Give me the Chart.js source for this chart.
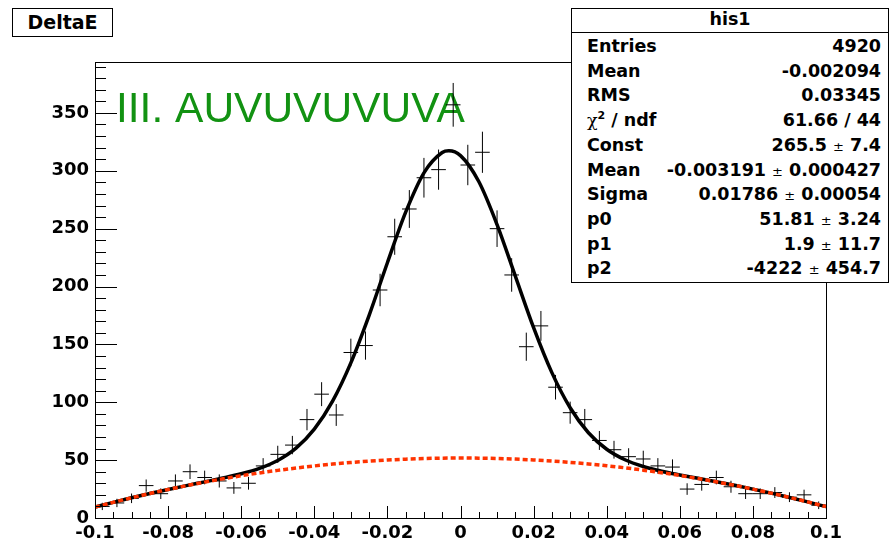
<!DOCTYPE html>
<html>
<head>
<meta charset="utf-8">
<script src="https://cdn.jsdelivr.net/npm/chart.js@4.4.1/dist/chart.umd.min.js"></script>
<style>
  body { margin: 0; background: #fff; }
  #wrap { position: relative; width: 890px; height: 542px; }
  .box { position: absolute; background: #fff; border: 1px solid #000; box-sizing: border-box;
         font: bold 17.5px "DejaVu Sans", sans-serif; color: #000; }
  #title { left: 12px; top: 8px; width: 101px; height: 29px; text-align: center; line-height: 27px; font-size: 19px; }
  #stats { left: 571px; top: 8px; width: 318px; height: 275px; }
  #stats .head { position: absolute; left: 0; right: 0; top: 0; height: 23px; line-height: 21px;
                 text-align: center; border-bottom: 1px solid #000; }
  #stats .row { position: absolute; left: 15px; right: 7px; height: 24px; line-height: 24px; }
  #stats .row .v { position: absolute; right: 0; top: 0; }
  .pm { font-weight: normal; font-size: 13px; }
  .chi { font-weight: normal; font-family: "DejaVu Serif", serif; }
  sup { font-size: 11px; line-height: 0; }
</style>
</head>
<body>
<div id="wrap">
  <canvas id="chart" width="890" height="542"></canvas>
  <div class="box" id="title">DeltaE</div>
  <div class="box" id="stats"><div class="head">his1</div></div>
</div>
<script>
// histogram: 50 bins of width 0.004 from -0.1 to 0.1
const binWidth = 0.004;
const binCenters = [-0.098, -0.094, -0.09, -0.086, -0.082, -0.078, -0.074, -0.07, -0.066, -0.062,
  -0.058, -0.054, -0.05, -0.046, -0.042, -0.038, -0.034, -0.03, -0.026, -0.022,
  -0.018, -0.014, -0.01, -0.006, -0.002, 0.002, 0.006, 0.01, 0.014, 0.018,
  0.022, 0.026, 0.03, 0.034, 0.038, 0.042, 0.046, 0.05, 0.054, 0.058,
  0.062, 0.066, 0.07, 0.074, 0.078, 0.082, 0.086, 0.09, 0.094, 0.098];
const counts = [10, 13, 17, 28, 21, 32, 40, 35, 32, 26,
  30, 45, 55, 63, 85, 107, 89, 143, 149, 197,
  243, 267, 294, 301, 357, 305, 316, 250, 210, 148,
  166, 113, 91, 85, 67, 59, 53, 51, 45, 44,
  25, 29, 35, 27, 21, 21, 22, 18, 20, 11];

// fit curve (gaus + pol2) and its background part, sampled along x
const fitX = [-0.1, -0.095, -0.09, -0.085, -0.08, -0.075, -0.07, -0.065, -0.06, -0.055,
  -0.05, -0.045, -0.04, -0.035, -0.03, -0.025, -0.02, -0.015, -0.01, -0.005, -0.0032,
  0, 0.005, 0.01, 0.015, 0.02, 0.025, 0.03, 0.035, 0.04, 0.045,
  0.05, 0.055, 0.06, 0.065, 0.07, 0.075, 0.08, 0.085, 0.09, 0.095, 0.1];
const fitY = [9.40, 13.53, 17.44, 21.16, 24.67, 28.00, 31.23, 34.52, 38.19, 42.90,
  49.71, 60.31, 76.73, 100.94, 134.02, 175.10, 220.58, 264.23, 298.27, 315.79, 317.3,
  313.11, 290.71, 253.51, 208.99, 164.46, 125.62, 95.27, 73.68, 59.39, 50.32,
  44.50, 40.45, 37.23, 34.27, 31.31, 28.22, 24.95, 21.47, 17.78, 13.89, 9.78];
const bkgY = [9.40, 13.53, 17.44, 21.15, 24.64, 27.92, 30.99, 33.85, 36.50, 38.94,
  41.16, 43.17, 44.98, 46.57, 47.95, 49.12, 50.08, 50.83, 51.37, 51.69, 51.76,
  51.81, 51.71, 51.41, 50.89, 50.16, 49.22, 48.07, 46.70, 45.13, 43.35,
  41.35, 39.14, 36.72, 34.09, 31.25, 28.20, 24.94, 21.47, 17.78, 13.89, 9.78];

const xTickLabels = ['-0.1', '-0.08', '-0.06', '-0.04', '-0.02', '0', '0.02', '0.04', '0.06', '0.08', '0.1'];
const yTickLabels = ['0', '50', '100', '150', '200', '250', '300', '350'];

const statLabels = ['Entries', 'Mean', 'RMS', '<span class="chi">&chi;</span><sup>2</sup> / ndf', 'Const',
  'Mean', 'Sigma', 'p0', 'p1', 'p2'];
const statValues = ['4920', '-0.002094', '0.03345', '61.66 / 44', '265.5 &plusmn; 7.4',
  '-0.003191 &plusmn; 0.000427', '0.01786 &plusmn; 0.00054', '51.81 &plusmn; 3.24', '1.9 &plusmn; 11.7', '-4222 &plusmn; 454.7'];

// stats box rows
const stats = document.getElementById('stats');
statLabels.forEach((lab, i) => {
    const row = document.createElement('div');
    row.className = 'row';
    row.style.top = (25 + i * 24.7) + 'px';
    row.innerHTML = lab + '<span class="v">' + statValues[i].replace(/&plusmn;/g, '<span class="pm">&plusmn;</span>') + '</span>';
    stats.appendChild(row);
});

// error crosses: horizontal bar over the bin, vertical bar +- sqrt(N)
const crossData = [];
binCenters.forEach((c, i) => {
    const n = counts[i];
    const e = Math.sqrt(n);
    crossData.push({x: c - binWidth / 2, y: n}, {x: c + binWidth / 2, y: n}, {x: c, y: null});
    crossData.push({x: c, y: n - e}, {x: c, y: n + e}, {x: c, y: null});
});

// frame, inward ticks and the green label
const framePlugin = {
    id: 'frame',
    beforeDatasetsDraw(chart) {
        const ctx = chart.ctx;
        ctx.save();
        ctx.font = '42.5px "Liberation Sans", Arial, sans-serif';
        ctx.fillStyle = '#129212';
        ctx.textBaseline = 'alphabetic';
        ctx.fillText('III. AUVUVUVUVA', 116, 122);
        ctx.restore();
    },
    afterDatasetsDraw(chart) {
        const {ctx, chartArea: a, scales: {x, y}} = chart;
        ctx.save();
        ctx.strokeStyle = '#000';
        ctx.lineWidth = 1;
        ctx.strokeRect(a.left + 0.5, a.top + 0.5, a.right - a.left, a.bottom - a.top);
        ctx.beginPath();
        for (let k = 0; k <= 40; k++) {
            const px = Math.round(x.getPixelForValue(-0.1 + k * 0.005)) + 0.5;
            const len = k % 4 === 0 ? 12 : 6;
            ctx.moveTo(px, a.bottom);
            ctx.lineTo(px, a.bottom - len);
        }
        for (let v = 0; v <= 390; v += 10) {
            const py = Math.round(y.getPixelForValue(v)) + 0.5;
            const len = v % 50 === 0 ? 22 : 11;
            ctx.moveTo(a.left, py);
            ctx.lineTo(a.left + len, py);
        }
        ctx.stroke();
        ctx.restore();
    }
};

const tickFont = {family: 'DejaVu Sans', weight: 'bold', size: 18};

new Chart(document.getElementById('chart').getContext('2d'), {
    type: 'scatter',
    data: {
        datasets: [
            {
                label: 'background',
                data: fitX.map((v, i) => ({x: v, y: bkgY[i]})),
                showLine: true,
                borderColor: '#ff3300',
                borderWidth: 3.5,
                borderDash: [5, 3],
                pointRadius: 0,
                cubicInterpolationMode: 'monotone',
                order: 0
            },
            {
                label: 'his1',
                data: crossData,
                showLine: true,
                spanGaps: false,
                borderColor: '#000',
                borderWidth: 1,
                pointRadius: 0,
                order: 1
            },
            {
                label: 'fit',
                data: fitX.map((v, i) => ({x: v, y: fitY[i]})),
                showLine: true,
                borderColor: '#000',
                borderWidth: 3.5,
                pointRadius: 0,
                cubicInterpolationMode: 'monotone',
                order: 2
            }
        ]
    },
    options: {
        responsive: false,
        animation: false,
        devicePixelRatio: 1,
        layout: {padding: {top: 62, right: 64, left: 0, bottom: 0}},
        plugins: {legend: {display: false}, tooltip: {enabled: false}},
        scales: {
            x: {
                type: 'linear',
                min: -0.1,
                max: 0.1,
                grid: {display: false, drawTicks: false},
                border: {display: false},
                afterFit: s => { s.height = 24; },
                ticks: {
                    stepSize: 0.02,
                    autoSkip: false,
                    maxRotation: 0,
                    includeBounds: false,
                    padding: 5,
                    color: '#000',
                    font: tickFont,
                    callback: v => xTickLabels[Math.round((v + 0.1) / 0.02)]
                }
            },
            y: {
                min: 0,
                max: 394,
                grid: {display: false, drawTicks: false},
                border: {display: false},
                afterFit: s => { s.width = 95; },
                ticks: {
                    stepSize: 50,
                    includeBounds: false,
                    padding: 6,
                    color: '#000',
                    font: tickFont,
                    callback: v => yTickLabels[Math.round(v / 50)]
                }
            }
        }
    },
    plugins: [framePlugin]
});
</script>
</body>
</html>
